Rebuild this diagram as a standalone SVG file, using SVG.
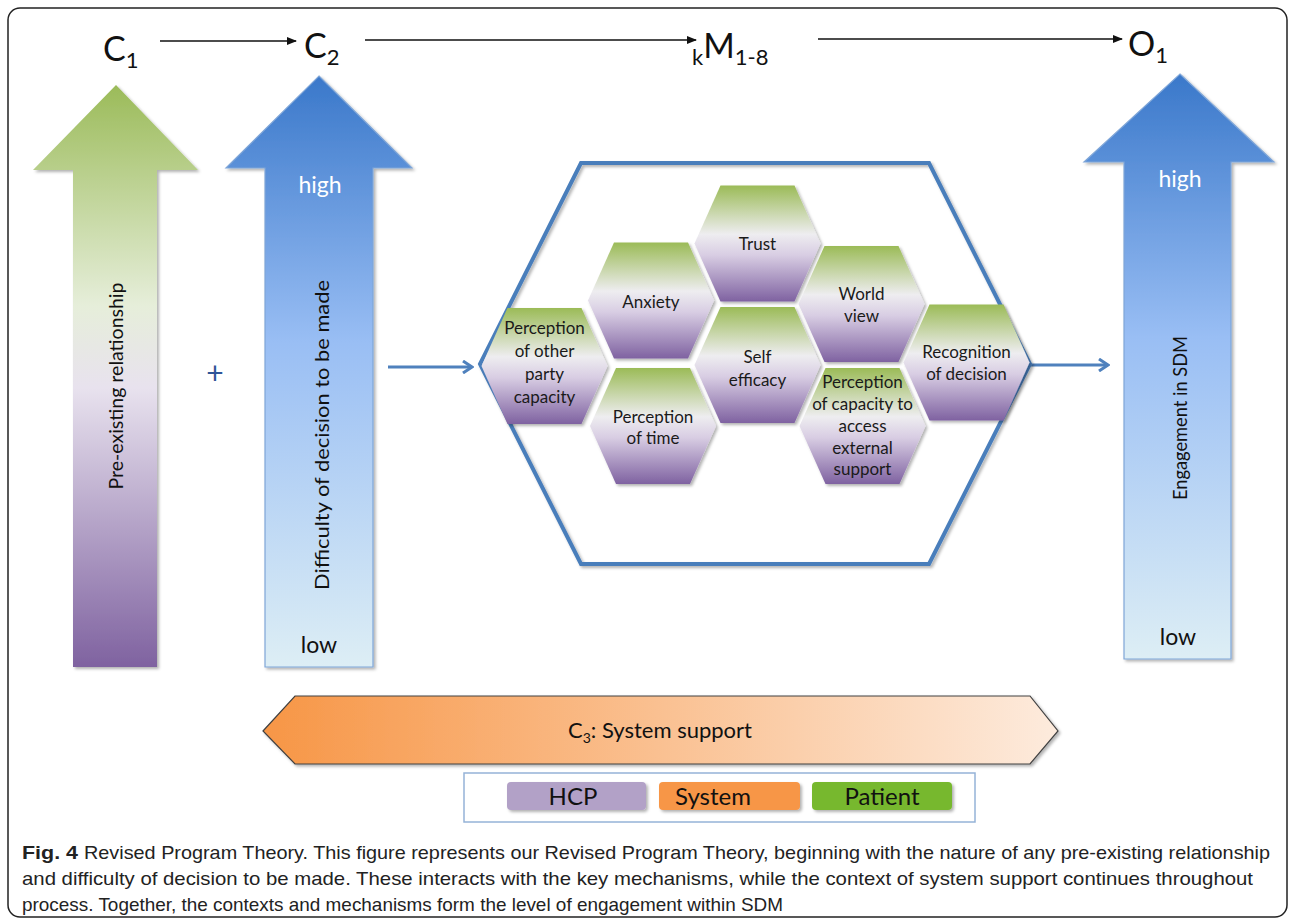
<svg xmlns="http://www.w3.org/2000/svg" xmlns:xlink="http://www.w3.org/1999/xlink" width="1295" height="921" viewBox="0 0 1295 921">
<style>
.lbl{font-family:"Lato","Open Sans",sans-serif;fill:#111}
.top{font-family:"Lato","Open Sans",sans-serif;font-size:34px;fill:#111}
.sub{font-size:22px}
.hx{font-family:"Lato","Open Sans",sans-serif;font-size:17px;fill:#1a1a1a;text-anchor:middle}
.cap{font-family:"Liberation Sans",Arial,sans-serif;font-size:18.5px;fill:#222}
.bl{stroke:#4F81BD;stroke-width:3;fill:none}
.tc{stroke:#111;stroke-width:1.3;fill:none}
</style>
<defs>
<linearGradient id="gp" x1="0" y1="0" x2="0" y2="1">
<stop offset="0" stop-color="#9BBB59"/><stop offset="0.38" stop-color="#E6EEDA"/><stop offset="0.52" stop-color="#E8E2EE"/><stop offset="1" stop-color="#7F62A0"/>
</linearGradient>
<linearGradient id="hg" x1="0" y1="0" x2="0" y2="1">
<stop offset="0" stop-color="#9BBB57"/><stop offset="0.42" stop-color="#EEEDF0"/><stop offset="0.6" stop-color="#D8CDE3"/><stop offset="1" stop-color="#7F62A1"/>
</linearGradient>
<linearGradient id="bg" x1="0" y1="0" x2="0" y2="1">
<stop offset="0" stop-color="#3A78CA"/><stop offset="0.45" stop-color="#99BEF4"/><stop offset="1" stop-color="#DDEEF5"/>
</linearGradient>
<linearGradient id="og" x1="0" y1="0" x2="1" y2="0">
<stop offset="0" stop-color="#F79646"/><stop offset="1" stop-color="#FDEBDD"/>
</linearGradient>
<filter id="sh" x="-10%" y="-10%" width="125%" height="125%">
<feDropShadow dx="2" dy="2" stdDeviation="1.5" flood-color="#000" flood-opacity="0.3"/>
</filter>
<marker id="ka" markerWidth="10" markerHeight="8" refX="9" refY="4" orient="auto" markerUnits="userSpaceOnUse">
<path d="M0,0 L10,4 L0,8 Z" fill="#111"/>
</marker>
<marker id="ba" markerWidth="14" markerHeight="14" refX="12" refY="7" orient="auto" markerUnits="userSpaceOnUse">
<path d="M3,1 L12,7 L3,13" fill="none" stroke="#4F81BD" stroke-width="3"/>
</marker>
<path id="hx" d="M-37,-58 L37,-58 L63,0 L37,58 L-37,58 L-63,0 Z"/>
</defs>
<rect x="0" y="0" width="1295" height="921" fill="#fff"/>
<rect x="8" y="8" width="1279" height="909" rx="12" fill="#fff" stroke="#222" stroke-width="1.5"/>

<g id="connectors">
<line class="tc" x1="160" y1="41" x2="296" y2="41" marker-end="url(#ka)"/>
<line class="tc" x1="365" y1="40" x2="696" y2="40" marker-end="url(#ka)"/>
<line class="tc" x1="818" y1="39" x2="1122" y2="39" marker-end="url(#ka)"/>
<line class="bl" x1="388" y1="367" x2="472" y2="367" marker-end="url(#ba)"/>
<line class="bl" x1="1031" y1="365" x2="1108" y2="365" marker-end="url(#ba)"/>
</g>

<g id="label-c1"><text class="top" x="103" y="61">C<tspan class="sub" dy="7">1</tspan></text></g>
<g id="label-c2"><text class="top" x="304" y="58">C<tspan class="sub" dy="7">2</tspan></text></g>
<g id="label-m"><text class="top" x="692" y="58"><tspan class="sub" dy="7">k</tspan><tspan dy="-7">M</tspan><tspan class="sub" dy="7">1-8</tspan></text></g>
<g id="label-o1"><text class="top" x="1128" y="56">O<tspan class="sub" dy="7">1</tspan></text></g>

<g id="arrow-c1">
<path d="M116,85 L198,170 L157,170 L157,667 L73,667 L73,170 L33,170 Z" fill="url(#gp)" filter="url(#sh)"/>
<text class="lbl" font-size="19" text-anchor="middle" transform="translate(123,386) rotate(-90)" textLength="207" lengthAdjust="spacingAndGlyphs">Pre-existing relationship</text>
</g>

<g id="plus"><text x="215" y="384" font-family="Lato,sans-serif" font-size="30" fill="#2F5597" text-anchor="middle">+</text></g>

<g id="arrow-c2">
<path d="M319,76 L412,168 L373,168 L373,667 L265,667 L265,168 L226,168 Z" fill="url(#bg)" stroke="#7FA6D8" stroke-width="1.2" filter="url(#sh)"/>
<text class="lbl" font-size="23" style="fill:#fff" text-anchor="middle" x="320" y="193">high</text>
<text class="lbl" font-size="23" text-anchor="middle" x="319" y="653">low</text>
<text class="lbl" font-size="20" text-anchor="middle" transform="translate(329,435) rotate(-90)" textLength="310" lengthAdjust="spacingAndGlyphs">Difficulty of decision to be made</text>
</g>

<g id="mechanisms">
<path d="M581,163 L929,163 L1030,364 L929,564 L581,564 L480,364 Z" fill="none" stroke="#4A7EBB" stroke-width="4" filter="url(#sh)"/>
</g>

<g id="hex-trust"><use href="#hx" x="757.5" y="243.5" fill="url(#hg)" filter="url(#sh)"/><text class="hx" x="757.5" y="250">Trust</text></g>
<g id="hex-anxiety"><use href="#hx" x="651" y="300.5" fill="url(#hg)" filter="url(#sh)"/><text class="hx" x="651" y="308">Anxiety</text></g>
<g id="hex-world"><use href="#hx" x="861.5" y="304" fill="url(#hg)" filter="url(#sh)"/><text class="hx" x="861.5" y="300">World</text><text class="hx" x="861.5" y="322">view</text></g>
<g id="hex-self"><use href="#hx" x="757.5" y="365" fill="url(#hg)" filter="url(#sh)"/><text class="hx" x="757.5" y="363">Self</text><text class="hx" x="757.5" y="386">efficacy</text></g>
<g id="hex-other"><use href="#hx" x="544.5" y="366" fill="url(#hg)" filter="url(#sh)"/><text class="hx" x="544.5" y="334">Perception</text><text class="hx" x="544.5" y="357">of other</text><text class="hx" x="544.5" y="380">party</text><text class="hx" x="544.5" y="403">capacity</text></g>
<g id="hex-time"><use href="#hx" x="653" y="426" fill="url(#hg)" filter="url(#sh)"/><text class="hx" x="653" y="423">Perception</text><text class="hx" x="653" y="444">of time</text></g>
<g id="hex-recog"><use href="#hx" x="966.5" y="362.5" fill="url(#hg)" filter="url(#sh)"/><text class="hx" x="966.5" y="358">Recognition</text><text class="hx" x="966.5" y="380">of decision</text></g>
<g id="hex-access"><use href="#hx" x="862.5" y="426" fill="url(#hg)" filter="url(#sh)"/><text class="hx" x="862.5" y="388">Perception</text><text class="hx" x="862.5" y="410">of capacity to</text><text class="hx" x="862.5" y="432">access</text><text class="hx" x="862.5" y="454">external</text><text class="hx" x="862.5" y="475">support</text></g>

<g id="arrow-o1">
<path d="M1180,74 L1274,162 L1231,162 L1231,659 L1124,659 L1124,162 L1084,162 Z" fill="url(#bg)" stroke="#7FA6D8" stroke-width="1.2" filter="url(#sh)"/>
<text class="lbl" font-size="23" style="fill:#fff" text-anchor="middle" x="1180" y="187">high</text>
<text class="lbl" font-size="23" text-anchor="middle" x="1178" y="645">low</text>
<text class="lbl" font-size="19" text-anchor="middle" transform="translate(1187,418) rotate(-90)" textLength="164" lengthAdjust="spacingAndGlyphs">Engagement in SDM</text>
</g>

<g id="system-support">
<path d="M263,731 L295,696 L1030,696 L1058,731 L1030,764 L295,764 Z" fill="url(#og)" stroke="#404040" stroke-width="1.2" filter="url(#sh)"/>
<text class="lbl" font-size="22" text-anchor="middle" x="660" y="738">C<tspan font-size="14" dy="5">3</tspan><tspan dy="-5">: System support</tspan></text>
</g>

<g id="legend">
<rect x="464" y="773" width="511" height="49" fill="#fff" stroke="#95B3D7" stroke-width="1.5"/>
<rect x="507" y="782" width="139" height="28" rx="4" fill="#B2A1C7" filter="url(#sh)"/>
<rect x="659" y="782" width="141" height="28" rx="4" fill="#F79646" filter="url(#sh)"/>
<rect x="812" y="782" width="140" height="28" rx="4" fill="#77B82E" filter="url(#sh)"/>
<text class="lbl" font-size="24" text-anchor="middle" x="573" y="805">HCP</text>
<text class="lbl" font-size="24" text-anchor="middle" x="713" y="805">System</text>
<text class="lbl" font-size="24" text-anchor="middle" x="882" y="805">Patient</text>
</g>

<g id="caption">
<text class="cap" x="22" y="859" font-weight="bold" textLength="56" lengthAdjust="spacingAndGlyphs">Fig. 4</text>
<text class="cap" x="84" y="859" textLength="1186" lengthAdjust="spacingAndGlyphs">Revised Program Theory. This figure represents our Revised Program Theory, beginning with the nature of any pre-existing relationship</text>
<text class="cap" x="22" y="885" textLength="1231" lengthAdjust="spacingAndGlyphs">and difficulty of decision to be made. These interacts with the key mechanisms, while the context of system support continues throughout</text>
<text class="cap" x="22" y="911" textLength="761" lengthAdjust="spacingAndGlyphs">process. Together, the contexts and mechanisms form the level of engagement within SDM</text>
</g>
</svg>
